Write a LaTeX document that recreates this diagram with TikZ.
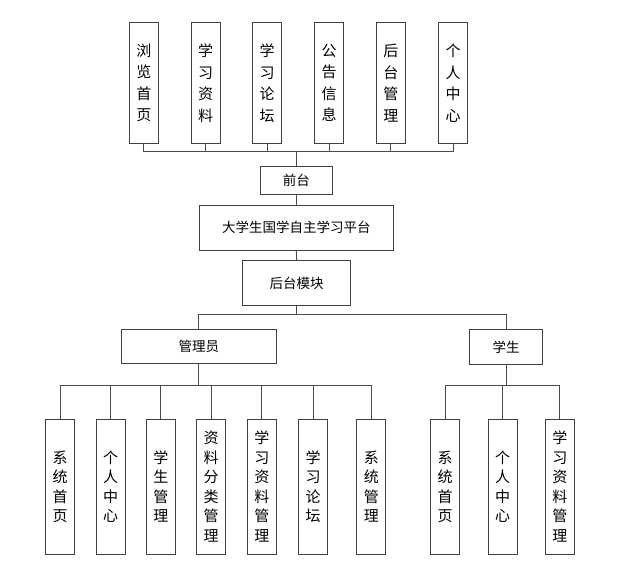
\documentclass[tikz,border=0pt]{standalone}
\usepackage{fontspec}
\setmainfont{Noto Sans CJK SC}
\usepackage{tikz}

\tikzset{
  vbox/.style={draw=black!75, line width=0.9pt, minimum width=29pt, inner sep=0pt,
    align=center, font=\fontsize{15}{21.5}\selectfont},
  vboxlow/.style={vbox, minimum height=134.7pt, font=\fontsize{15}{19.5}\selectfont},
  hbox/.style={draw=black!75, line width=0.9pt, inner sep=0pt,
    font=\fontsize{13.5}{16}\selectfont},
  link/.style={draw=black!70, line width=0.9pt}
}

\begin{document}
\begin{tikzpicture}[x=1pt,y=-1pt]
  \useasboundingbox (0,0) rectangle (621,576);

  % front pages
  \node[vbox, minimum height=120.6pt] (llsy) at (143.8,83) {浏\\览\\首\\页};
  \node[vbox, minimum height=120.6pt] (xxzl) at (205.5,83) {学\\习\\资\\料};
  \node[vbox, minimum height=120.6pt] (xxlt) at (267.2,83) {学\\习\\论\\坛};
  \node[vbox, minimum height=120.6pt] (ggxx) at (329,83) {公\\告\\信\\息};
  \node[vbox, minimum height=120.6pt] (htgl) at (390.8,83) {后\\台\\管\\理};
  \node[vbox, minimum height=120.6pt] (grzx) at (453,83) {个\\人\\中\\心};

  % middle column
  \node[hbox, minimum width=72.7pt, minimum height=28pt] (qt) at (296.3,180.7) {前台};
  \node[hbox, minimum width=194pt, minimum height=44.3pt] (pt) at (296.3,227.8) {大学生国学自主学习平台};
  \node[hbox, minimum width=108pt, minimum height=45pt] (htmk) at (296.7,283.2) {后台模块};

  % roles
  \node[hbox, minimum width=155pt, minimum height=34pt] (gly) at (198.8,346.7) {管理员};
  \node[hbox, minimum width=73.4pt, minimum height=34.3pt] (xs) at (506,346.8) {学生};

  % admin pages
  \node[vboxlow] (gxtsy) at (60.2,486.7) {系\\统\\首\\页};
  \node[vboxlow] (ggrzx) at (110.5,486.7) {个\\人\\中\\心};
  \node[vboxlow] (gxsgl) at (160.8,486.7) {学\\生\\管\\理};
  \node[vboxlow] (gzlfl) at (211,486.7) {资\\料\\分\\类\\管\\理};
  \node[vboxlow] (gzlgl) at (261.8,486.7) {学\\习\\资\\料\\管\\理};
  \node[vboxlow] (gxxlt) at (313.2,486.7) {学\\习\\论\\坛};
  \node[vboxlow] (gxtgl) at (371.3,486.7) {系\\统\\管\\理};

  % student pages
  \node[vboxlow] (sxtsy) at (445.2,486.7) {系\\统\\首\\页};
  \node[vboxlow] (sgrzx) at (502.5,486.7) {个\\人\\中\\心};
  \node[vboxlow] (szlgl) at (559.8,486.7) {学\\习\\资\\料\\管\\理};

  % bus heights
  \coordinate (topbus) at (0,151.7);
  \coordinate (midbus) at (0,314);
  \coordinate (lowbus) at (0,385);

  % front pages to 前台
  \draw[link] (llsy.south) |- (qt.north |- topbus);
  \draw[link] (xxzl.south) |- (qt.north |- topbus);
  \draw[link] (xxlt.south) |- (qt.north |- topbus);
  \draw[link] (ggxx.south) |- (qt.north |- topbus);
  \draw[link] (htgl.south) |- (qt.north |- topbus);
  \draw[link] (grzx.south) |- (qt.north |- topbus);
  \draw[link] (qt.north |- topbus) -- (qt.north);

  % spine
  \draw[link] (qt.south) -- (pt.north);
  \draw[link] (pt.south) -- (htmk.north);
  \draw[link] (htmk.south) -- (htmk.south |- midbus);
  \draw[link] (gly.north) |- (htmk.south |- midbus);
  \draw[link] (xs.north) |- (htmk.south |- midbus);

  % admin branch
  \draw[link] (gly.south) -- (gly.south |- lowbus);
  \draw[link] (gxtsy.north) |- (gly.south |- lowbus);
  \draw[link] (ggrzx.north) |- (gly.south |- lowbus);
  \draw[link] (gxsgl.north) |- (gly.south |- lowbus);
  \draw[link] (gzlfl.north) |- (gly.south |- lowbus);
  \draw[link] (gzlgl.north) |- (gly.south |- lowbus);
  \draw[link] (gxxlt.north) |- (gly.south |- lowbus);
  \draw[link] (gxtgl.north) |- (gly.south |- lowbus);

  % student branch
  \draw[link] (xs.south) -- (xs.south |- lowbus);
  \draw[link] (sxtsy.north) |- (xs.south |- lowbus);
  \draw[link] (sgrzx.north) |- (xs.south |- lowbus);
  \draw[link] (szlgl.north) |- (xs.south |- lowbus);
\end{tikzpicture}
\end{document}
